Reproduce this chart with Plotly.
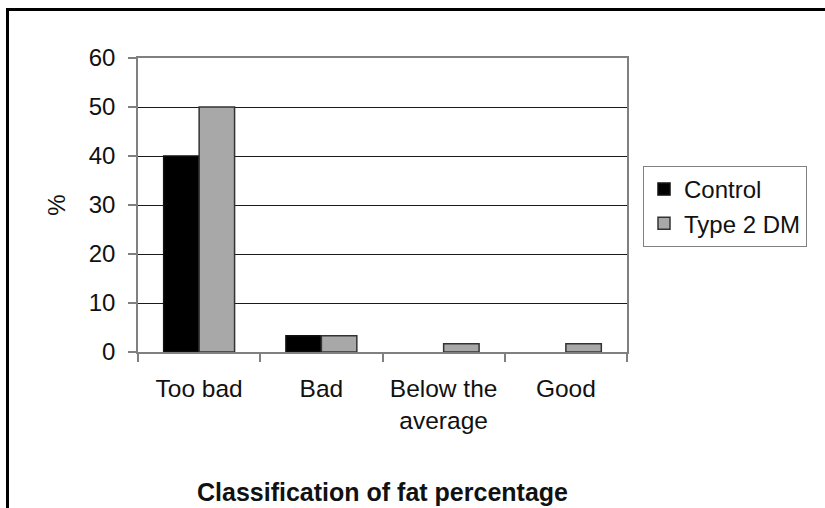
import plotly.graph_objects as go

categories = ["Too bad", "Bad", "Below the<br>average", "Good"]
control = [40, 3.3, 0, 0]
type2dm = [50, 3.3, 1.7, 1.7]
y_ticks = [0, 10, 20, 30, 40, 50, 60]

W, H = 825, 508
L, R, T, B = 138, 825 - 627, 58, 508 - 352
pw, ph = W - L - R, H - T - B

FONT = "Liberation Sans, Arial, sans-serif"

fig = go.Figure()
fig.add_trace(go.Bar(x=categories, y=control, name="Control",
                     marker=dict(color="#000000",
                                 line=dict(color="#111111",
                                           width=[1.5 if v > 0 else 0 for v in control]))))
fig.add_trace(go.Bar(x=categories, y=type2dm, name="Type 2 DM",
                     marker=dict(color="#a8a8a8",
                                 line=dict(color="#333333",
                                           width=[1.5 if v > 0 else 0 for v in type2dm]))))

fig.update_layout(
    width=W, height=H,
    margin=dict(l=L, r=R, t=T, b=B, pad=0, autoexpand=False),
    paper_bgcolor="white", plot_bgcolor="white",
    barmode="group", bargap=0.42, bargroupgap=0,
    font=dict(family=FONT, size=24, color="#111111"),
    showlegend=True,
    legend=dict(x=(643 - L) / pw, y=(352 - 166) / ph, xanchor="left", yanchor="top",
                bordercolor="#808080", borderwidth=1, bgcolor="white",
                font=dict(size=24, family=FONT), tracegroupgap=0),
    xaxis=dict(
        type="category", tickson="boundaries", ticks="outside", ticklen=8,
        tickcolor="#808080", tickwidth=1.5, automargin=False,
        showline=True, linecolor="#808080", linewidth=1.5, mirror=True,
        showgrid=False,
        tickfont=dict(size=24.5, family=FONT),
        ticklabelstandoff=14,
        title=dict(text="<b>Classification of fat percentage</b>",
                   font=dict(size=25, family=FONT), standoff=50),
    ),
    yaxis=dict(
        range=[0, 60], tickvals=y_ticks, ticks="outside", ticklen=8,
        tickcolor="#808080", tickwidth=1.5, automargin=False,
        showline=True, linecolor="#808080", linewidth=1.5, mirror=True,
        showgrid=True, gridcolor="#1a1a1a", gridwidth=1, zeroline=False,
        tickfont=dict(size=24, family=FONT),
        ticklabelstandoff=8,
        title=dict(text="%", font=dict(size=24, family=FONT), standoff=16),
    ),
)

# outer frame of the figure
fig.add_shape(type="rect", xref="paper", yref="paper",
              x0=(7.5 - L) / pw, x1=(840 - L) / pw,
              y0=(352 - 520) / ph, y1=1 + (58 - 9.5) / ph,
              line=dict(color="#000000", width=3), fillcolor="rgba(0,0,0,0)",
              layer="above")

fig.write_html("out.html", config={"displayModeBar": False},
               post_script="document.body.style.margin='0';document.body.style.overflow='hidden';")
